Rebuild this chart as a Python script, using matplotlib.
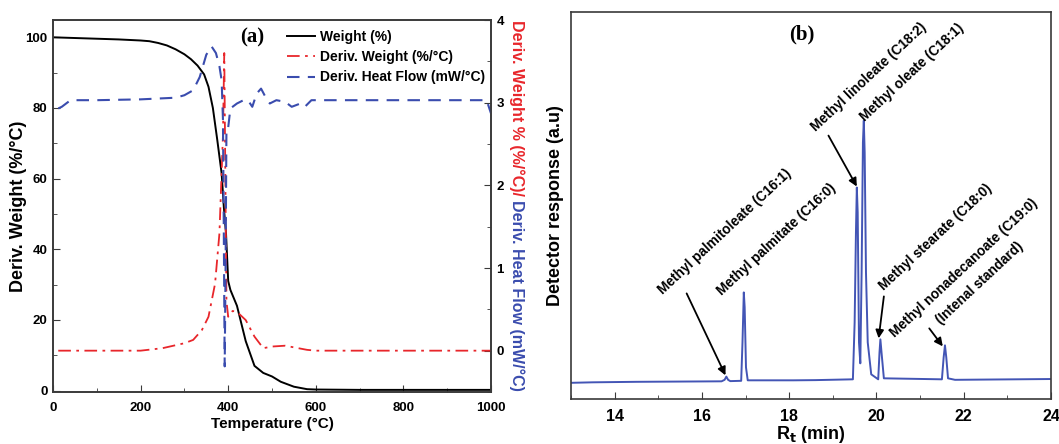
import matplotlib
matplotlib.use('Agg')
import matplotlib.pyplot as plt
from matplotlib.ticker import MultipleLocator

plt.rcParams['font.family'] = ['Liberation Sans', 'DejaVu Sans']
plt.rcParams['font.weight'] = 'bold'
plt.rcParams['axes.labelweight'] = 'bold'

# (a) TGA / DTG / heat flow
w_temp = [0, 50, 100, 150, 200, 220, 240, 260, 280, 300, 315, 330, 345, 355, 365, 375, 385,
          390, 395, 400, 405, 420, 440, 460, 480, 500, 520, 550, 580, 600, 700, 1000]
w_val = [100, 99.8, 99.6, 99.4, 99.1, 98.9, 98.4, 97.7, 96.6, 95.2, 93.8, 92, 89.5, 86,
         80, 71, 61.5, 52, 44.5, 31, 28.5, 24, 14, 7, 5, 4, 2.5, 1.1, 0.4, 0.3, 0.2, 0.2]

dw_temp = [12, 100, 200, 250, 300, 320, 340, 355, 370, 380, 388, 391, 393, 396, 400, 410,
           420, 440, 460, 480, 500, 530, 560, 580, 600, 1000]
dw_val = [0, 0, 0, 0.03, 0.09, 0.13, 0.25, 0.41, 0.81, 1.42, 2.6, 3.6, 2.4, 0.6, 0.41, 0.48,
          0.47, 0.37, 0.17, 0.03, 0.05, 0.06, 0.03, 0.01, 0, 0]

hf_temp = [12, 20, 40, 100, 200, 280, 300, 320, 335, 350, 362, 372, 380, 385, 388, 390, 392,
           394, 396, 400, 405, 420, 435, 445, 455, 465, 475, 485, 495, 510, 530, 545, 565,
           575, 590, 700, 990, 1000]
hf_val = [2.93, 2.95, 3.03, 3.03, 3.04, 3.06, 3.09, 3.15, 3.31, 3.58, 3.68, 3.6, 3.44, 3.27,
          2.8, 1.42, -0.19, 1.0, 2.7, 2.7, 2.93, 2.99, 3.03, 3.03, 2.95, 3.11, 3.17, 3.07,
          2.99, 3.03, 3.01, 2.95, 2.99, 2.95, 3.03, 3.03, 3.03, 2.87]

# (b) GC chromatogram
rt = [13.0, 13.5, 14.5, 16.45, 16.52, 16.56, 16.6, 16.65, 16.9, 16.93, 16.96, 16.98, 17.01,
      17.05, 18.1, 18.6, 19.46, 19.5, 19.53, 19.55, 19.57, 19.6, 19.63, 19.66, 19.69, 19.71,
      19.73, 19.76, 19.8, 19.88, 20.04, 20.07, 20.09, 20.12, 20.17, 21.5, 21.54, 21.57, 21.6,
      21.64, 21.8, 24.0]
resp = [-0.5, 0, 0.5, 1.0, 2.5, 5.7, 2.5, 1.2, 1.5, 40, 90, 75, 15, 2, 2, 2.2, 3, 60, 150,
        195, 170, 40, 19, 110, 240, 262, 230, 110, 40, 8, 3, 30, 43, 28, 4, 3, 25, 37, 25, 4,
        2.5, 3.3]

peak_labels = ['Methyl palmitoleate (C16:1)', 'Methyl palmitate (C16:0)',
               'Methyl linoleate (C18:2)', 'Methyl oleate (C18:1)',
               'Methyl stearate (C18:0)', 'Methyl nonadecanoate (C19:0)', '(Intenal standard)']
label_x = [15.15, 16.50, 18.66, 19.78, 20.21, 20.48, 21.52]
label_y = [85, 84, 249, 259, 89, 42, 55]
arrow_tail = [(15.65, 89), (18.90, 247), (20.17, 86), (21.21, 54)]
arrow_head = [(16.54, 7), (19.55, 196), (20.05, 44), (21.52, 36)]

red = '#e8262b'
blue = '#3a4cae'
spine_c = '#3a3a3a'

fig = plt.figure(figsize=(10.59, 4.44), dpi=100)

ax1 = fig.add_axes([53/1059, 1-392/444, 438/1059, 372/444])
ax2 = ax1.twinx()
l1, = ax1.plot(w_temp, w_val, color='black', lw=1.4, label='Weight (%)')
l2, = ax2.plot(dw_temp, dw_val, color=red, lw=1.3, dashes=[7, 3, 1.5, 3], label='Deriv. Weight (%/°C)')
l3, = ax2.plot(hf_temp, hf_val, color=blue, lw=1.5, dashes=[6, 4], label='Deriv. Heat Flow (mW/°C)')
ax1.set_xlim(0, 1000)
ax1.set_ylim(-0.4, 104.9)
ax2.set_ylim(-0.5, 4)
ax1.xaxis.set_major_locator(MultipleLocator(200))
ax1.xaxis.set_minor_locator(MultipleLocator(100))
ax1.yaxis.set_major_locator(MultipleLocator(20))
ax1.yaxis.set_minor_locator(MultipleLocator(10))
ax2.yaxis.set_major_locator(MultipleLocator(1))
ax2.yaxis.set_minor_locator(MultipleLocator(0.5))
for a in (ax1, ax2):
    a.tick_params(which='both', direction='in', labelsize=9.5, color=spine_c)
    a.tick_params(which='major', length=5)
    a.tick_params(which='minor', length=3)
    for s in a.spines.values():
        s.set_color(spine_c)
        s.set_linewidth(1.2)
ax1.tick_params(axis='x', pad=7)
ax1.tick_params(axis='y', pad=4)
ax2.tick_params(axis='y', pad=4)
ax1.set_xlabel('Temperature (°C)', fontsize=11, labelpad=2)
ax1.set_ylabel('Deriv. Weight (%/°C)', fontsize=13)
ax1.yaxis.set_label_coords(-0.059, 0.5)
ax1.text(454, 100, '(a)', fontsize=15, fontweight='bold', family='Liberation Serif',
         ha='center', va='center')
ax1.legend(handles=[l1, l2, l3], loc='upper left', bbox_to_anchor=(287/1059, 1-30/444),
           bbox_transform=fig.transFigure, frameon=False, fontsize=10, handlelength=2.0,
           handletextpad=0.4, labelspacing=0.45, borderpad=0, borderaxespad=0)

t_red = fig.text(517/1059, 1-20/444, 'Deriv. Weight % (%/°C)/', color=red, fontsize=11.5,
                 rotation=270, ha='center', va='top')
fig.canvas.draw()
bb = t_red.get_window_extent()
fig.text(517/1059, (bb.y0 - 4)/fig.bbox.height, 'Deriv. Heat Flow (mW/°C)', color=blue,
         fontsize=11.5, rotation=270, ha='center', va='top')

# (b)
ax3 = fig.add_axes([571/1059, 1-399/444, 480/1059, 387/444])
ax3.plot(rt, resp, color='#4355b5', lw=1.4)
ax3.set_xlim(13, 24)
ax3.set_ylim(-16.7, 370.7)
ax3.xaxis.set_major_locator(MultipleLocator(2))
ax3.xaxis.set_minor_locator(MultipleLocator(1))
ax3.set_yticks([])
ax3.tick_params(which='both', direction='in', labelsize=11.5, color=spine_c, pad=7)
ax3.tick_params(which='major', length=5)
ax3.tick_params(which='minor', length=3)
for s in ax3.spines.values():
    s.set_color(spine_c)
    s.set_linewidth(1.2)
ax3.set_xlabel('R$_\\mathbf{t}$ (min)', fontsize=13, labelpad=0)
ax3.set_ylabel('Detector response (a.u)', fontsize=13)
ax3.yaxis.set_label_coords(-0.015, 0.5)
ax3.text(18.3, 348, '(b)', fontsize=15, fontweight='bold', family='Liberation Serif',
         ha='center', va='center')
for lab, x, y in zip(peak_labels, label_x, label_y):
    ax3.text(x, y, lab, fontsize=9.8, rotation=43, rotation_mode='anchor',
             ha='left', va='bottom')
for tail, head in zip(arrow_tail, arrow_head):
    ax3.annotate('', xy=head, xytext=tail,
                 arrowprops=dict(arrowstyle='-|>', color='black', lw=1.3,
                                 mutation_scale=12, shrinkA=0, shrinkB=0))

fig.savefig('out.png', dpi=100)
